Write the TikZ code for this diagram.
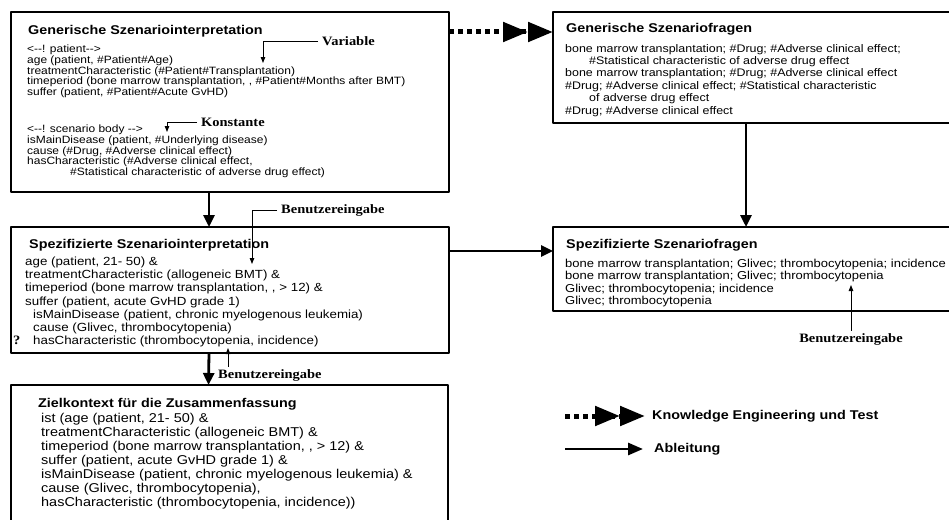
\documentclass[tikz,border=0pt]{standalone}
\usepackage{fontspec}
\newfontfamily\kastenfont[FakeStretch=1.13]{Liberation Sans}
\newfontfamily\notizfont[FakeStretch=1.13]{Liberation Serif}
\usetikzlibrary{arrows.meta}

\tikzset{
  kasten/.style={draw, line width=1.4pt, anchor=north west, inner sep=0pt, outer sep=0pt},
  titel/.style={anchor=west, inner sep=0pt, font=\kastenfont\fontsize{12.7}{14}\selectfont\bfseries},
  zeilen/.style={anchor=north west, inner sep=0pt, align=left},
  notiz/.style={inner xsep=4pt, inner ysep=2pt, font=\notizfont\fontsize{12.8}{14}\selectfont\bfseries},
  hinweis/.style={line width=0.9pt, -{Triangle[length=6pt,width=4.5pt]}},
  ableitung/.style={line width=2.8pt, -{Triangle[length=12pt,width=11pt]}},
  wissen/.style={line width=5pt, line cap=butt, dash pattern=on 5pt off 4pt,
    -{Triangle[length=25pt,width=19pt] Triangle[length=25pt,width=19pt]}},
  legende/.style={anchor=west, inner ysep=0pt, font=\kastenfont\fontsize{12.7}{14}\selectfont\bfseries}
}

\begin{document}
\begin{tikzpicture}[line join=round,x=1pt,y=-1pt]
\useasboundingbox (0,0) rectangle (949,519);
\clip (0,0) rectangle (949,519);
% Kaesten
\node[kasten, minimum width=438pt, minimum height=180pt] (gsi) at (11,12) {};
\node[kasten, minimum width=420pt, minimum height=111pt] (gsf) at (553,12) {};
\node[kasten, minimum width=438pt, minimum height=126pt] (ssi) at (11,227) {};
\node[kasten, minimum width=420pt, minimum height=84pt] (sf) at (553,227) {};
\node[kasten, minimum width=437pt, minimum height=150pt] (zk) at (11,385) {};

% Generische Szenariointerpretation
\node[titel] (gsi-t) at (28,31) {Generische Szenariointerpretation};
\node[zeilen, font=\kastenfont\fontsize{10.6}{10.6}\selectfont] (gsi-a) at (27,45) {%
  <-{}-! patient-{}->\\
  age (patient, \#Patient\#Age)\\
  treatmentCharacteristic (\#Patient\#Transplantation)\\
  timeperiod (bone marrow transplantation, , \#Patient\#Months after BMT)\\
  suffer (patient, \#Patient\#Acute GvHD)};
\node[zeilen, font=\kastenfont\fontsize{10.6}{10.6}\selectfont] (gsi-b) at (27,125) {%
  <-{}-! scenario body -{}->\\
  isMainDisease (patient, \#Underlying disease)\\
  cause (\#Drug, \#Adverse clinical effect)\\
  hasCharacteristic (\#Adverse clinical effect,\\
  \hspace*{43pt}\#Statistical characteristic of adverse drug effect)};

% Generische Szenariofragen
\node[titel] (gsf-t) at (566,29) {Generische Szenariofragen};
\node[zeilen, font=\kastenfont\fontsize{11}{12.4}\selectfont] (gsf-a) at (565,44) {%
  bone marrow transplantation; \#Drug; \#Adverse clinical effect;\\
  \hspace*{24pt}\#Statistical characteristic of adverse drug effect\\
  bone marrow transplantation; \#Drug; \#Adverse clinical effect\\
  \#Drug; \#Adverse clinical effect; \#Statistical characteristic\\
  \hspace*{24pt}of adverse drug effect\\
  \#Drug; \#Adverse clinical effect};

% Spezifizierte Szenariointerpretation
\node[titel] (ssi-t) at (29,245) {Spezifizierte Szenariointerpretation};
\node[zeilen, font=\kastenfont\fontsize{11.8}{13.1}\selectfont] (ssi-a) at (25,257) {%
  age (patient, 21- 50) \&\\
  treatmentCharacteristic (allogeneic BMT) \&\\
  timeperiod (bone marrow transplantation, , > 12) \&\\
  suffer (patient, acute GvHD grade 1)\\
  \hspace*{8pt}isMainDisease (patient, chronic myelogenous leukemia)\\
  \hspace*{8pt}cause (Glivec, thrombocytopenia)\\
  \hspace*{8pt}hasCharacteristic (thrombocytopenia, incidence)};
\node[notiz, anchor=west] (frage) at (9,340) {?};

% Spezifizierte Szenariofragen
\node[titel] (sf-t) at (566,245) {Spezifizierte Szenariofragen};
\node[zeilen, font=\kastenfont\fontsize{11.5}{12.3}\selectfont] (sf-a) at (565,259) {%
  bone marrow transplantation; Glivec; thrombocytopenia; incidence\\
  bone marrow transplantation; Glivec; thrombocytopenia\\
  Glivec; thrombocytopenia; incidence\\
  Glivec; thrombocytopenia};

% Zielkontext
\node[titel] (zk-t) at (38,404) {Zielkontext f\"ur die Zusammenfassung};
\node[zeilen, font=\kastenfont\fontsize{12.8}{14}\selectfont] (zk-a) at (41,413) {%
  ist (age (patient, 21- 50) \&\\
  treatmentCharacteristic (allogeneic BMT) \&\\
  timeperiod (bone marrow transplantation, , > 12) \&\\
  suffer (patient, acute GvHD grade 1) \&\\
  isMainDisease (patient, chronic myelogenous leukemia) \&\\
  cause (Glivec, thrombocytopenia),\\
  hasCharacteristic (thrombocytopenia, incidence))};

% Pfeile zwischen den Kaesten
\draw[wissen] ([yshift=-20pt]gsi.north east) -- ([yshift=-20pt]gsf.north west);
\draw[ableitung] ([xshift=-21pt]gsi.south) -- ([xshift=-21pt]ssi.north);
\draw[ableitung] ([xshift=-21pt]ssi.south) -- ([xshift=-21pt]zk.north);
\draw[ableitung] ([xshift=-17pt]gsf.south) -- ([xshift=-17pt]sf.north);
\draw[ableitung] ([yshift=-24pt]ssi.north east) -- ([yshift=-24pt]sf.north west);

% Hinweise
\node[notiz, anchor=west] (var) at (318,41) {Variable};
\coordinate (var-ziel) at (263,63);
\draw[hinweis] (var.west) -| (var-ziel);
\node[notiz, anchor=west] (konst) at (197,122) {Konstante};
\coordinate (konst-ziel) at (167,132);
\draw[hinweis] (konst.west) -| (konst-ziel);
\node[notiz, anchor=west] (eingabe1) at (277,210) {Benutzereingabe};
\coordinate (eingabe1-ziel) at (252,264);
\draw[hinweis] (eingabe1.west) -| (eingabe1-ziel);
\node[notiz, anchor=west] (eingabe2) at (214,375) {Benutzereingabe};
\coordinate (eingabe2-ziel) at (228,348);
\draw[hinweis] (eingabe2.north -| eingabe2-ziel) -- (eingabe2-ziel);
\node[notiz] (eingabe3) at (851,339) {Benutzereingabe};
\coordinate (eingabe3-ziel) at (851,285);
\draw[hinweis] (eingabe3.north) -- (eingabe3-ziel);

% Legende
\coordinate (leg1) at (565,416);
\coordinate (leg2) at (565,449);
\node[legende, inner xsep=7pt] (leg1-t) at (645,416) {Knowledge Engineering und Test};
\node[legende, inner xsep=11pt] (leg2-t) at (643,449) {Ableitung};
\draw[wissen] (leg1) -- (leg1-t.west);
\draw[ableitung, -{Triangle[length=15pt,width=12pt]}] (leg2) -- (leg2-t.west);
\end{tikzpicture}
\end{document}
